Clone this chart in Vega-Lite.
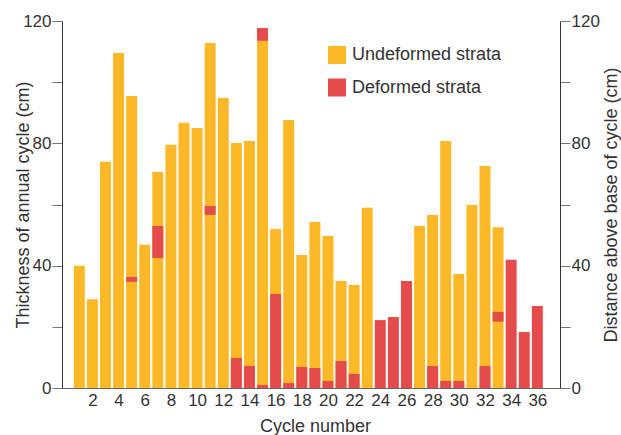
{
  "$schema": "https://vega.github.io/schema/vega-lite/v6.json",
  "width": 498,
  "height": 367,
  "autosize": {"type": "none"},
  "padding": {"left": 62, "top": 21, "right": 61, "bottom": 47},
  "background": "white",
  "config": {
    "view": {"stroke": null},
    "font": "Liberation Sans",
    "axis": {"labelColor": "#333333", "titleColor": "#333333", "titleFontWeight": "normal", "grid": false, "labelFontSize": 17, "titleFontSize": 18},
    "legend": {"labelColor": "#333333"}
  },
  "data": {
    "values": [
      {"cycle": 1, "type": "Undeformed strata", "start": 0, "end": 40},
      {"cycle": 2, "type": "Undeformed strata", "start": 0, "end": 29},
      {"cycle": 3, "type": "Undeformed strata", "start": 0, "end": 74},
      {"cycle": 4, "type": "Undeformed strata", "start": 0, "end": 109.5},
      {"cycle": 5, "type": "Undeformed strata", "start": 0, "end": 95.5},
      {"cycle": 6, "type": "Undeformed strata", "start": 0, "end": 46.8},
      {"cycle": 7, "type": "Undeformed strata", "start": 0, "end": 70.6},
      {"cycle": 8, "type": "Undeformed strata", "start": 0, "end": 79.5},
      {"cycle": 9, "type": "Undeformed strata", "start": 0, "end": 86.7},
      {"cycle": 10, "type": "Undeformed strata", "start": 0, "end": 85},
      {"cycle": 11, "type": "Undeformed strata", "start": 0, "end": 112.8},
      {"cycle": 12, "type": "Undeformed strata", "start": 0, "end": 94.8},
      {"cycle": 13, "type": "Undeformed strata", "start": 0, "end": 80.1},
      {"cycle": 14, "type": "Undeformed strata", "start": 0, "end": 80.8},
      {"cycle": 15, "type": "Undeformed strata", "start": 0, "end": 113.5},
      {"cycle": 16, "type": "Undeformed strata", "start": 0, "end": 52},
      {"cycle": 17, "type": "Undeformed strata", "start": 0, "end": 87.6},
      {"cycle": 18, "type": "Undeformed strata", "start": 0, "end": 43.5},
      {"cycle": 19, "type": "Undeformed strata", "start": 0, "end": 54.3},
      {"cycle": 20, "type": "Undeformed strata", "start": 0, "end": 49.7},
      {"cycle": 21, "type": "Undeformed strata", "start": 0, "end": 35},
      {"cycle": 22, "type": "Undeformed strata", "start": 0, "end": 33.7},
      {"cycle": 23, "type": "Undeformed strata", "start": 0, "end": 58.9},
      {"cycle": 27, "type": "Undeformed strata", "start": 0, "end": 53},
      {"cycle": 28, "type": "Undeformed strata", "start": 0, "end": 56.6},
      {"cycle": 29, "type": "Undeformed strata", "start": 0, "end": 80.8},
      {"cycle": 30, "type": "Undeformed strata", "start": 0, "end": 37.3},
      {"cycle": 31, "type": "Undeformed strata", "start": 0, "end": 59.8},
      {"cycle": 32, "type": "Undeformed strata", "start": 0, "end": 72.6},
      {"cycle": 33, "type": "Undeformed strata", "start": 0, "end": 52.6},
      {"cycle": 5, "type": "Deformed strata", "start": 34.7, "end": 36.3},
      {"cycle": 7, "type": "Deformed strata", "start": 42.5, "end": 53},
      {"cycle": 11, "type": "Deformed strata", "start": 56.6, "end": 59.5},
      {"cycle": 13, "type": "Deformed strata", "start": 0, "end": 9.8},
      {"cycle": 14, "type": "Deformed strata", "start": 0, "end": 7.2},
      {"cycle": 15, "type": "Deformed strata", "start": 0, "end": 1},
      {"cycle": 15, "type": "Deformed strata", "start": 113.5, "end": 117.7},
      {"cycle": 16, "type": "Deformed strata", "start": 0, "end": 30.7},
      {"cycle": 17, "type": "Deformed strata", "start": 0, "end": 1.6},
      {"cycle": 18, "type": "Deformed strata", "start": 0, "end": 6.9},
      {"cycle": 19, "type": "Deformed strata", "start": 0, "end": 6.5},
      {"cycle": 20, "type": "Deformed strata", "start": 0, "end": 2.3},
      {"cycle": 21, "type": "Deformed strata", "start": 0, "end": 8.8},
      {"cycle": 22, "type": "Deformed strata", "start": 0, "end": 4.6},
      {"cycle": 24, "type": "Deformed strata", "start": 0, "end": 22.2},
      {"cycle": 25, "type": "Deformed strata", "start": 0, "end": 23.2},
      {"cycle": 26, "type": "Deformed strata", "start": 0, "end": 35},
      {"cycle": 28, "type": "Deformed strata", "start": 0, "end": 7.2},
      {"cycle": 29, "type": "Deformed strata", "start": 0, "end": 2.3},
      {"cycle": 30, "type": "Deformed strata", "start": 0, "end": 2.3},
      {"cycle": 32, "type": "Deformed strata", "start": 0, "end": 7.2},
      {"cycle": 33, "type": "Deformed strata", "start": 21.7, "end": 24.9},
      {"cycle": 34, "type": "Deformed strata", "start": 0, "end": 41.9},
      {"cycle": 35, "type": "Deformed strata", "start": 0, "end": 18.3},
      {"cycle": 36, "type": "Deformed strata", "start": 0, "end": 26.8}
    ]
  },
  "encoding": {
    "x": {
      "field": "cycle",
      "type": "quantitative",
      "scale": {"domain": [0.06, 37.35], "nice": false, "zero": false},
      "axis": {
        "values": [2, 4, 6, 8, 10, 12, 14, 16, 18, 20, 22, 24, 26, 28, 30, 32, 34, 36],
        "ticks": false,
        "labelPadding": 4,
        "labelDx": 3,
        "domainColor": "#666666",
        "title": "Cycle number",
        "titleX": 253,
        "titleY": 43.5,
        "titleBaseline": "alphabetic"
      }
    },
    "y2": {"field": "start"},
    "color": {
      "field": "type",
      "type": "nominal",
      "scale": {"domain": ["Undeformed strata", "Deformed strata"], "range": ["#fcb827", "#e54b4b"]},
      "legend": {
        "title": null,
        "orient": "none",
        "legendX": 266,
        "legendY": 25,
        "symbolType": "square",
        "symbolSize": 324,
        "symbolStrokeWidth": 0,
        "symbolOpacity": 1,
        "labelFontSize": 18,
        "labelOffset": 6,
        "rowPadding": 14.5,
        "padding": 0
      }
    }
  },
  "layer": [
    {
      "transform": [{"filter": "datum.type == 'Undeformed strata'"}],
      "mark": {"type": "bar", "width": 11},
      "encoding": {
        "y": {
          "field": "end",
          "type": "quantitative",
          "scale": {"domain": [0, 120], "nice": false},
          "axis": {
            "orient": "left",
            "values": [0, 20, 40, 60, 80, 100, 120],
            "labelExpr": "datum.value % 40 == 0 ? datum.label : ''",
            "tickSize": 10,
            "tickColor": "#777777",
            "domainColor": "#333333",
            "labelPadding": 1,
            "title": "Thickness of annual cycle (cm)",
            "titleAngle": 270,
            "titleX": -34,
            "titleY": 183.5,
            "titleBaseline": "alphabetic",
            "titleAlign": "center"
          }
        }
      }
    },
    {
      "transform": [{"filter": "datum.type == 'Deformed strata'"}],
      "mark": {"type": "bar", "width": 11},
      "encoding": {
        "y": {
          "field": "end",
          "type": "quantitative",
          "scale": {"domain": [0, 120], "nice": false},
          "axis": {
            "orient": "right",
            "values": [0, 20, 40, 60, 80, 100, 120],
            "labelExpr": "datum.value % 40 == 0 ? datum.label : ''",
            "tickSize": 10,
            "tickColor": "#777777",
            "domainColor": "#333333",
            "labelPadding": 1,
            "title": "Distance above base of cycle (cm)",
            "titleAngle": 270,
            "titleX": 56,
            "titleY": 183.5,
            "titleBaseline": "alphabetic",
            "titleAlign": "center"
          }
        }
      }
    }
  ],
  "resolve": {"axis": {"y": "independent"}}
}
